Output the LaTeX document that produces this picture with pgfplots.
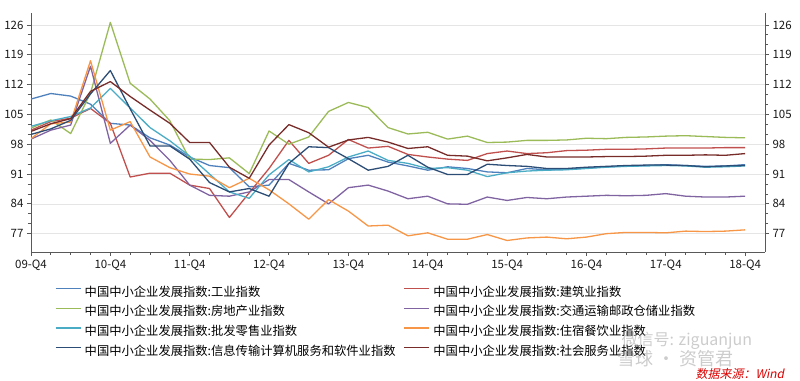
\documentclass[border=0pt]{standalone}
\usepackage{fontspec}
\setmainfont{Noto Sans CJK SC}
\newfontfamily\cjkit[FakeSlant=0.2]{Noto Sans CJK SC}
\usepackage{pgfplots}
\usepackage{pgfplotstable}
\pgfplotsset{compat=1.18}
\definecolor{c1}{HTML}{4F81BD}
\definecolor{c2}{HTML}{C0504D}
\definecolor{c3}{HTML}{9BBB59}
\definecolor{c4}{HTML}{8064A2}
\definecolor{c5}{HTML}{4BACC6}
\definecolor{c6}{HTML}{F79646}
\definecolor{c7}{HTML}{2C4D75}
\definecolor{c8}{HTML}{772C2A}
\pgfplotstableread{
q  s1 s2 s3 s4 s5 s6 s7 s8
0  108.6 101.3 101.8 99.2 102.2 99.3 100.3 101.0
1  109.9 103.3 103.7 101.3 103.5 102.8 101.6 102.8
2  109.3 104.1 100.5 102.5 104.5 103.2 103.6 104.0
3  107.4 106.4 110.0 116.3 106.5 117.6 109.8 110.4
4  102.9 102.9 126.6 98.2 111.1 101.3 115.3 112.7
5  102.5 90.3 112.3 102.5 106.5 103.3 106.3 109.2
6  99.5 91.2 108.6 98.9 101.9 95.0 97.6 106.0
7  97.8 91.2 103.5 94.2 98.8 92.5 97.6 102.9
8  95.0 88.4 94.5 88.4 95.2 91.0 94.5 98.4
9  93.0 87.6 94.4 86.0 91.0 90.5 89.0 98.4
10 92.5 80.8 94.8 85.8 86.8 87.8 86.8 92.6
11 88.0 86.6 91.1 86.8 85.3 90.0 87.6 90.0
12 88.4 92.3 101.1 89.7 90.8 87.3 85.8 97.8
13 93.5 98.9 98.0 89.7 94.4 84.0 93.5 102.6
14 91.9 93.5 99.7 86.8 91.5 80.4 97.4 100.7
15 92.0 95.4 105.7 84.0 92.7 85.0 97.2 97.3
16 94.6 99.1 107.8 87.8 95.0 82.3 94.6 99.0
17 95.4 97.1 106.6 88.4 96.4 78.8 91.9 99.6
18 93.8 97.5 101.9 87.0 94.2 79.0 92.8 98.5
19 92.9 95.6 100.4 85.2 93.5 76.5 95.4 97.0
20 91.9 95.0 100.8 85.8 92.3 77.2 92.6 97.4
21 92.7 94.5 99.2 84.0 92.5 75.7 90.9 95.4
22 92.3 94.2 99.9 83.9 91.9 75.7 90.9 95.2
23 91.5 95.8 98.4 85.6 90.4 76.8 93.3 94.1
24 91.3 96.4 98.5 84.8 91.3 75.4 93.0 94.8
25 92.3 95.8 98.9 85.5 91.7 76.0 92.8 95.6
26 92.0 96.0 98.9 85.2 91.9 76.2 92.3 95.0
27 92.1 96.5 99.0 85.6 92.0 75.8 92.3 95.0
28 92.4 96.6 99.4 85.8 92.3 76.2 92.6 95.0
29 92.7 96.8 99.3 86.0 92.6 77.0 92.8 95.1
30 92.9 96.8 99.6 85.9 92.8 77.3 93.0 95.1
31 93.0 96.9 99.7 86.0 92.9 77.3 93.1 95.2
32 93.2 97.1 99.9 86.4 93.0 77.2 93.1 95.4
33 93.0 97.1 100.0 85.8 92.9 77.6 93.0 95.4
34 92.8 97.1 99.8 85.6 92.6 77.5 92.7 95.5
35 92.9 97.2 99.6 85.6 92.7 77.6 92.9 95.4
36 93.2 97.2 99.5 85.8 92.9 77.9 93.0 95.8
}\datatable
\pgfplotsset{
  common/.style={
    at={(31bp,129bp)}, anchor=south west,
    scale only axis, width=734bp, height=239bp,
    xmin=0, xmax=37, ymin=72.7, ymax=128.8,
    ytick={77,84,91,98,105,112,119,126},
    minor y tick num=2,
    tick align=outside,
    major tick length=4bp, minor tick length=3bp,
    tick style={color=black!65, line width=0.8bp},
    axis line style={color=black!65, line width=0.8bp, -},
    /pgf/number format/assume math mode=true,
    ticklabel style={font=\fontsize{11.5bp}{13bp}\selectfont, text=black!90},
  },
  ser/.style={line width=1.3bp, no markers, line join=round},
  myleg/.style={legend image code/.code={\draw[##1, line width=1.4bp] (0bp,4.2bp) -- (25bp,4.2bp);}},
}
\newcommand{\Lone}[1]{\makebox[319bp][l]{#1}}
\begin{document}
\begin{tikzpicture}
\useasboundingbox (0,0) rectangle (800bp,381bp);
\begin{axis}[common, myleg,
  axis x line*=bottom, axis y line*=left,
  xtick={0,4,...,36},
  xticklabels={09-Q4,10-Q4,11-Q4,12-Q4,13-Q4,14-Q4,15-Q4,16-Q4,17-Q4,18-Q4},
  minor x tick num=3,
  ymajorgrids, major grid style={color=black!10, line width=0.6bp},
  legend columns=2,
  legend cell align=left,
  legend style={draw=none, fill=none, inner sep=0pt, outer sep=0pt,
    at={(axis description cs:0.0327,-0.1452)}, anchor=north west,
    nodes={inner sep=0pt, text height=9.5bp, text depth=2.5bp, font=\fontsize{12.3bp}{14bp}\selectfont},
    row sep=7.7bp,
    /tikz/every odd column/.append style={column sep=3.3bp}},
]
\addplot[ser, c1] table[x=q, y=s1] {\datatable};
\addlegendentry{\Lone{中国中小企业发展指数:工业指数}}
\addplot[ser, c2] table[x=q, y=s2] {\datatable};
\addlegendentry{中国中小企业发展指数:建筑业指数}
\addplot[ser, c3] table[x=q, y=s3] {\datatable};
\addlegendentry{\Lone{中国中小企业发展指数:房地产业指数}}
\addplot[ser, c4] table[x=q, y=s4] {\datatable};
\addlegendentry{中国中小企业发展指数:交通运输邮政仓储业指数}
\addplot[ser, c5] table[x=q, y=s5] {\datatable};
\addlegendentry{\Lone{中国中小企业发展指数:批发零售业指数}}
\addplot[ser, c6] table[x=q, y=s6] {\datatable};
\addlegendentry{中国中小企业发展指数:住宿餐饮业指数}
\addplot[ser, c7] table[x=q, y=s7] {\datatable};
\addlegendentry{\Lone{中国中小企业发展指数:信息传输计算机服务和软件业指数}}
\addplot[ser, c8] table[x=q, y=s8] {\datatable};
\addlegendentry{中国中小企业发展指数:社会服务业指数}
\end{axis}
\begin{axis}[common,
  axis y line*=right, axis x line=none,
  xtick=\empty,
]
\end{axis}
\node[anchor=west, text=gray, opacity=0.4, font=\fontsize{16bp}{18bp}\selectfont] at (618bp,40bp) {微信号: ziguanjun};
\node[anchor=west, text=gray, opacity=0.4, font=\fontsize{18bp}{20bp}\selectfont] at (614bp,22.5bp) {雪球 · 资管君};
\node[anchor=west, text=red!85!black, font=\cjkit\fontsize{12bp}{14bp}\selectfont] at (692bp,7.5bp) {数据来源：Wind};
\end{tikzpicture}
\end{document}
